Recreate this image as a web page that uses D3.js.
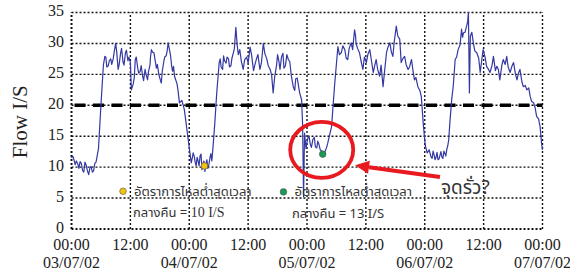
<!DOCTYPE html>
<html><head><meta charset="utf-8">
<script src="https://cdn.jsdelivr.net/npm/d3@7/dist/d3.min.js"></script>
<style>body{margin:0;background:#fff}svg{display:block}</style>
</head><body>
<svg id="c" width="570" height="274"></svg>
<script>
// hours since 00:00 03/07/02, flow (l/s)
const flow = [
[0,11.5],[0.25,11.8],[0.5,11.2],[0.75,10.4],[1,11.0],[1.25,10.6],[1.5,9.8],[1.75,10.9],[2,10.6],[2.25,9.5],[2.5,9.2],[2.75,10.8],[3,10.3],[3.25,9.4],[3.5,8.8],[3.75,9.9],[4,10.1],[4.25,9.2],[4.5,9.4],[4.75,10.6],[5,10.8],[5.5,13],[6,20],[6.5,26.5],[6.8,27.9],[7,27.8],[7.2,26.2],[7.5,26.4],[7.7,27.2],[8,27.5],[8.2,26.6],[8.5,27.5],[8.7,28.6],[9,30],[9.2,28.8],[9.5,25.8],[9.7,26.5],[10,28.4],[10.2,29.2],[10.5,27],[10.7,26.5],[11,28.5],[11.2,28.9],[11.5,27.2],[11.7,27.8],[12,26.9],[12.2,22.5],[12.6,23.5],[12.8,24.5],[13,27.4],[13.2,27.8],[13.5,26],[13.7,25.2],[14,25.5],[14.2,26.4],[14.5,24.7],[14.7,24],[15,25.8],[15.2,25],[15.5,24.1],[15.7,25.5],[16,26.5],[16.1,27.8],[16.3,29],[16.5,28.6],[16.8,28.5],[17,27.5],[17.3,26],[17.5,26.6],[17.8,25],[18,24.4],[18.3,23.6],[18.5,25.5],[18.8,27],[19,27.8],[19.3,28],[19.5,28.8],[19.7,30.1],[19.9,29.3],[20.2,28],[20.4,26.4],[20.6,25.5],[20.8,26.3],[21,24.7],[21.2,24.2],[21.5,23.5],[21.7,22.5],[22,20.4],[22.5,20.8],[23,19.3],[23.7,15],[24.4,10.7],
[24.6,11.4],[24.8,12.3],[25,11.8],[25.2,10.8],[25.4,10.2],[25.6,11.6],[25.8,11],[26,10.2],[26.2,11.8],[26.4,12.1],[26.6,9.6],[26.8,10.5],[27,11],[27.2,9.3],[27.4,10.6],[27.6,11.2],[27.8,9.8],[28,10.4],[28.2,11.4],[28.4,12.2],[28.6,11],[28.8,12.8],[29.2,17],[29.6,22],[30.1,26.9],[30.3,27.5],[30.5,26.2],[30.8,25.8],[31,28],[31.2,27.2],[31.5,26.8],[31.7,27.8],[32,27.5],[32.2,26.2],[32.5,26.4],[32.7,27.6],[33,28.5],[33.2,29.2],[33.5,32.6],[33.65,31],[33.8,29.5],[34,28.2],[34.3,29],[34.6,27.2],[35,25.8],[35.3,27.4],[35.7,27.8],[36,26.8],[36.4,29.4],[36.7,28.2],[37.1,25.6],[37.4,26.6],[37.7,27.5],[38,28.2],[38.4,25.8],[38.7,26.8],[39.1,30],[39.4,28.4],[39.8,27.5],[40.1,26.4],[40.5,25.8],[40.8,24.8],[41.1,22],[41.4,24.5],[41.8,26.5],[42,28.2],[42.3,27],[42.5,25.8],[42.8,27.8],[43.1,28.4],[43.3,26],[43.6,26.4],[43.9,28.2],[44.2,27.4],[44.5,27],[44.8,24.8],[45.2,23],[45.5,22.4],[45.7,24.3],[46,24.4],[46.2,23.5],[46.5,22],[46.9,20.9],[47.1,17],[47.3,5.2],[47.5,15.5],[47.8,13],[48,14],[48.2,14.8],[48.4,15],[48.7,13.6],[48.9,13.2],[49.2,14.5],[49.5,14.8],[49.7,13.3],[50,13.1],[50.2,14.2],[50.4,13.8],[50.7,12.8],[51,12.6],[51.2,12.1],[51.5,11.8],[51.7,12.6],[52,13.2],[52.2,13.8],[52.7,15.5],[53,16.5],[53.6,23],
[54.3,29.5],[54.6,28.2],[55,28.5],[55.3,29.6],[55.7,29],[56,27.6],[56.3,27.4],[56.6,29.2],[57,30.1],[57.3,29],[57.7,32.2],[57.9,31.2],[58,30],[58.3,29.2],[58.7,28.5],[59,27.2],[59.4,25.8],[59.7,27.8],[60.1,26.9],[60.4,28.2],[60.8,29],[61.1,27.4],[61.5,25.3],[61.8,26.4],[62.1,27.4],[62.4,25.8],[62.8,24.7],[63.1,26.5],[63.5,23],[63.8,25.4],[64.2,28.5],[64.5,29.4],[64.9,30.1],[65.2,28.6],[65.5,27.9],[65.8,30.4],[66.2,32.8],[66.5,31.2],[66.9,30.7],[67.2,26.9],[67.5,27.5],[67.9,27.9],[68.2,26.6],[68.6,25.8],[68.9,26.2],[69.3,27.4],[69.6,25.6],[69.9,24.1],[70.2,24.5],[70.6,23],[71,22.4],[71.3,21.4],[71.7,17],[72.1,13.5],[72.5,12.3],
[72.9,12.8],[73.1,12.2],[73.3,11.6],[73.5,11.4],[73.7,12.6],[73.9,12],[74.1,11.2],[74.3,11.6],[74.5,12.4],[74.7,11.2],[74.9,11.3],[75.1,11.9],[75.3,12.5],[75.5,11.6],[75.7,11.4],[75.9,12.6],[76.1,12.2],[76.3,11.8],[76.5,12.9],[76.7,13.5],[76.9,14.5],[77.1,17],[77.5,21],[77.8,23],[78.2,27.4],[78.5,27.8],[78.8,29],[79.2,29.8],[79.5,32.3],[79.7,31],[79.9,31.7],[80.2,31.8],[80.4,32.4],[80.6,33],[80.75,33.6],[80.9,35],[81.1,22],[81.3,31.2],[81.6,31.8],[81.9,30.1],[82.2,28.8],[82.6,28.5],[83,27.6],[83.3,25.3],[83.6,27.2],[83.9,29],[84.3,27.8],[84.6,26.3],[85,25.8],[85.3,25.3],[85.7,26.4],[86,27.9],[86.4,25.6],[86.7,26.3],[87,25.8],[87.3,24.1],[87.7,26.4],[88,27.4],[88.4,26.6],[88.7,27.9],[89,26.2],[89.4,25.3],[89.8,26.4],[90.1,26.9],[90.5,25],[90.8,24.1],[91.1,25.2],[91.4,25.8],[91.8,23.8],[92.1,23],[92.5,23.2],[92.8,22.5],[93.2,22.8],[93.5,21.4],[93.8,20.6],[94.2,20.4],[94.5,19.6],[94.8,18.2],[95.2,17.8],[95.5,16.6],[95.8,13.9],[96,12.8]
];
const yTicks = [0,5,10,15,20,25,30,35];
const xTicks = [0,12,24,36,48,60,72,84,96];
const timeLabels = ["00:00","12:00","00:00","12:00","00:00","12:00","00:00","12:00","00:00"];
const dateLabels = ["03/07/02","","04/07/02","","05/07/02","","06/07/02","","07/07/02"];
const threshold = 20;
const minPoints = [{h:27.1, v:10.2, color:"#f2c40c"},{h:51.2, v:12.1, color:"#1a9a55"}];
const legendItems = [
  {h:10.5, v:6.1, color:"#f2c40c", line1:"อัตราการไหลต่ำสุดเวลา", pre:"กลางคืน = ", val:"10 I/S", serif:true},
  {h:43.2, v:6.0, color:"#1a9a55", line1:"อัตราการไหลต่ำสุดเวลา", pre:"กลางคืน = ", val:"13 I/S", serif:false}
];
const leakLabel = "จุดรั่ว?";
const yTitle = "Flow I/S";

const svg = d3.select("#c");
const x = d3.scaleLinear().domain([0,96]).range([71.5,542.5]);
const y = d3.scaleLinear().domain([0,35]).range([229,12.5]);
const serif = "'Liberation Serif','Times New Roman',serif";
const thai = "'Noto Sans Thai','Loma','Garuda','Tlwg Typo','Noto Sans','DejaVu Sans',sans-serif";

// grid
const g = svg.append("g");
g.selectAll("line.h").data(yTicks).join("line")
  .attr("x1",x(0)).attr("x2",x(96)).attr("y1",d=>y(d)).attr("y2",d=>y(d))
  .attr("stroke","#111").attr("stroke-width",d=>d===0?2:1.4).attr("stroke-dasharray","2,2");
g.selectAll("line.v").data(xTicks).join("line")
  .attr("y1",y(0)).attr("y2",y(35)).attr("x1",d=>x(d)).attr("x2",d=>x(d))
  .attr("stroke","#111").attr("stroke-width",d=>d===0?2:1.4).attr("stroke-dasharray","2,2");

// threshold dashed
svg.append("line").attr("x1",x(0)).attr("x2",x(96)).attr("y1",y(threshold)).attr("y2",y(threshold))
  .attr("stroke","#000").attr("stroke-width",3.5).attr("stroke-dasharray","11,7.5").attr("stroke-dashoffset",-3);

// y tick labels
svg.selectAll("text.yt").data(yTicks).join("text")
  .attr("x",64).attr("y",d=>y(d)-1.5).attr("dy","0.34em").attr("text-anchor","end")
  .attr("font-family",serif).attr("font-size",16).attr("fill","#222").text(d=>d);
// x tick labels
svg.selectAll("text.xt").data(xTicks).join("text")
  .attr("x",d=>x(d)).attr("y",249.5).attr("text-anchor","middle")
  .attr("font-family",serif).attr("font-size",16).attr("fill","#222").text((d,i)=>timeLabels[i]);
svg.selectAll("text.xd").data(xTicks).join("text")
  .attr("x",d=>x(d)).attr("y",268).attr("text-anchor","middle")
  .attr("font-family",serif).attr("font-size",16).attr("fill","#222").text((d,i)=>dateLabels[i]);

// y title
svg.append("text").attr("transform",`translate(27,${(y(0)+y(35))/2+1}) rotate(-90)`)
  .attr("text-anchor","middle").attr("font-family",serif).attr("font-size",21).attr("fill","#222").text(yTitle);

// line
svg.append("path").datum(d3.sort(flow, d=>d[0]))
  .attr("d",d3.line().x(d=>x(d[0])).y(d=>y(d[1])))
  .attr("fill","none").attr("stroke","#3338a2").attr("stroke-width",1.2).attr("stroke-linejoin","round");

// min points
svg.selectAll("circle.mp").data(minPoints).join("circle")
  .attr("cx",d=>x(d.h)).attr("cy",d=>y(d.v)).attr("r",3.3)
  .attr("fill",d=>d.color).attr("stroke","#555").attr("stroke-width",0.6);

// legend items
legendItems.forEach(it=>{
  svg.append("circle").attr("cx",x(it.h)).attr("cy",y(it.v)).attr("r",3.3)
    .attr("fill",it.color).attr("stroke","#555").attr("stroke-width",0.6);
  svg.append("text").attr("x",x(it.h)+11).attr("y",y(it.v)+4.5)
    .attr("font-family",thai).attr("font-size",13).attr("fill","#333").text(it.line1);
  const t = svg.append("text").attr("x",x(it.h)+(it.serif?10:8.5)).attr("y",y(it.v)+26)
    .attr("font-family",thai).attr("font-size",13).attr("fill","#333");
  t.append("tspan").text(it.pre);
  t.append("tspan").attr("font-family",it.serif?serif:thai).attr("font-size",it.serif?14:13).text(it.val);
});

// red ellipse
svg.append("ellipse").attr("cx",x(51)).attr("cy",y(12.8)).attr("rx",31.5).attr("ry",28)
  .attr("fill","none").attr("stroke","#e8191f").attr("stroke-width",3.8);
// arrow
const tail=[x(75.1),y(8.4)], tip=[x(57.8),y(10.3)];
const ang=Math.atan2(tip[1]-tail[1],tip[0]-tail[0]);
const L=14, W=6.5;
const base=[tip[0]-L*Math.cos(ang), tip[1]-L*Math.sin(ang)];
svg.append("line").attr("x1",tail[0]).attr("y1",tail[1]).attr("x2",base[0]).attr("y2",base[1])
  .attr("stroke","#e8191f").attr("stroke-width",4);
svg.append("polygon").attr("points",[
  tip,
  [base[0]+W*Math.sin(ang), base[1]-W*Math.cos(ang)],
  [base[0]-W*Math.sin(ang), base[1]+W*Math.cos(ang)]
].map(p=>p.join(",")).join(" ")).attr("fill","#e8191f");

svg.append("text").attr("x",x(75.1)+1).attr("y",y(5.6))
  .attr("font-family",thai).attr("font-size",19).attr("fill","#333").text(leakLabel);
</script>
</body></html>
